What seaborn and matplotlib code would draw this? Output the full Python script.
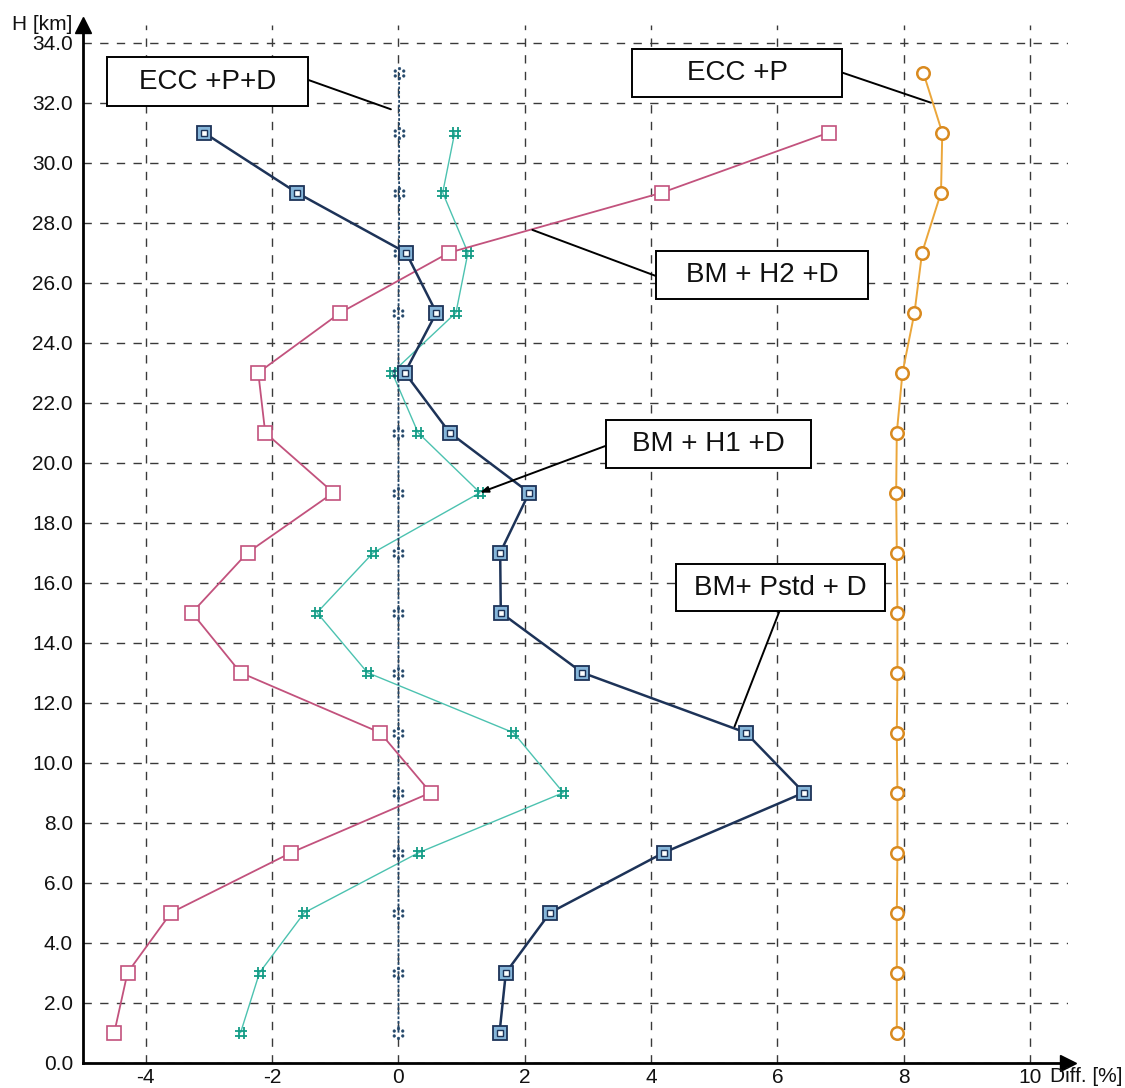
import numpy as np
import pandas as pd
import matplotlib
matplotlib.use("Agg")
import matplotlib.pyplot as plt
from matplotlib.path import Path
from matplotlib.patches import Rectangle
import seaborn as sns

# ---------------- data ----------------
heights = [1, 3, 5, 7, 9, 11, 13, 15, 17, 19, 21, 23, 25, 27, 29, 31]
heights_ecc = [1, 3, 5, 7, 9, 11, 13, 15, 17, 19, 21, 23, 25, 27, 29, 31, 33]

bm_pstd_d = [1.60, 1.70, 2.40, 4.20, 6.42, 5.50, 2.91, 1.62, 1.61, 2.07,
             0.81, 0.10, 0.60, 0.12, -1.61, -3.08]
bm_h2_d = [-4.50, -4.29, -3.60, -1.70, 0.51, -0.29, -2.50, -3.27, -2.39, -1.03,
           -2.11, -2.22, -0.92, 0.80, 4.17, 6.81]
bm_h1_d = [-2.50, -2.20, -1.49, 0.32, 2.61, 1.82, -0.49, -1.29, -0.40, 1.29,
           0.31, -0.10, 0.91, 1.10, 0.70, 0.89]
ecc_p_d = [0.00, 0.00, 0.00, 0.00, 0.00, 0.00, 0.00, 0.00, 0.00, 0.00,
           0.00, 0.00, 0.00, 0.01, 0.01, 0.01, 0.01]
ecc_p = [7.89, 7.89, 7.89, 7.90, 7.90, 7.89, 7.90, 7.90, 7.89, 7.88,
         7.89, 7.98, 8.17, 8.29, 8.59, 8.61, 8.31]

x_ticks = [-4, -2, 0, 2, 4, 6, 8, 10]
y_ticks = [0, 2, 4, 6, 8, 10, 12, 14, 16, 18, 20, 22, 24, 26, 28, 30, 32, 34]
y_tick_labels = ["0.0", "2.0", "4.0", "6.0", "8.0", "10.0", "12.0", "14.0", "16.0",
                 "18.0", "20.0", "22.0", "24.0", "26.0", "28.0", "30.0", "32.0", "34.0"]

labels = ["ECC +P+D", "ECC +P", "BM + H2 +D", "BM + H1 +D", "BM+ Pstd + D"]

# ---------------- style ----------------
sns.set_theme(style="white")
plt.rcParams["font.family"] = ["Liberation Sans", "DejaVu Sans"]

navy = "#1d3358"
navy_face = "#86b6da"
pink = "#c2527d"
teal_line = "#4cc2b0"
teal_mark = "#149c86"
orange_line = "#eba63a"
orange_mark = "#d98a1f"
ecc_dark = "#24486b"

fig = plt.figure(figsize=(11.25, 10.88), dpi=100)
ax = fig.add_axes([0.0735, 0.0233, 0.8758, 0.954])

# custom markers
ring = []
for ang in np.deg2rad([90, 150, 210, 270, 330, 30]):
    c = Path.unit_circle()
    v = c.vertices * 0.28 + np.array([np.cos(ang), np.sin(ang)])
    ring.append(Path(v, c.codes))
dot_ring = Path.make_compound_path(*ring)

hash_path = Path(
    [(-1, -0.4), (1, -0.4), (-1, 0.4), (1, 0.4),
     (-0.4, -1), (-0.4, 1), (0.4, -1), (0.4, 1)],
    [Path.MOVETO, Path.LINETO] * 4,
)

# ---------------- series ----------------
# BM + H2 + D (pink, open squares)
sns.lineplot(x=bm_h2_d, y=heights, orient="y", sort=False, estimator=None, ax=ax,
             color=pink, linewidth=1.3, marker="s", markersize=10,
             markerfacecolor="white", markeredgecolor=pink, markeredgewidth=1.2,
             zorder=4)

# BM + H1 + D (teal, hash markers)
sns.lineplot(x=bm_h1_d, y=heights, orient="y", sort=False, estimator=None, ax=ax,
             color=teal_line, linewidth=1.0, zorder=3)
ax.plot(bm_h1_d, heights, linestyle="none", marker=hash_path, markersize=9,
        markerfacecolor="none", markeredgecolor=teal_mark, markeredgewidth=1.3,
        zorder=3.5)

# ECC +P+D (dark dotted, ring-of-dots markers)
sns.lineplot(x=ecc_p_d, y=heights_ecc, orient="y", sort=False, estimator=None, ax=ax,
             color=ecc_dark, linewidth=1.3, linestyle=(0, (1.5, 1)), zorder=3)
ax.plot(ecc_p_d, heights_ecc, linestyle="none", marker=dot_ring, markersize=9,
        markerfacecolor=ecc_dark, markeredgecolor=ecc_dark, markeredgewidth=0.3,
        zorder=3.6)

# BM + Pstd + D (navy, double squares)
sns.lineplot(x=bm_pstd_d, y=heights, orient="y", sort=False, estimator=None, ax=ax,
             color=navy, linewidth=1.8, marker="s", markersize=10,
             markerfacecolor=navy_face, markeredgecolor=navy, markeredgewidth=1.3,
             zorder=5)
ax.plot(bm_pstd_d, heights, linestyle="none", marker="s", markersize=4,
        markerfacecolor="white", markeredgecolor=navy, markeredgewidth=1.0, zorder=5.5)

# ECC +P (orange)
sns.lineplot(x=ecc_p, y=heights_ecc, orient="y", sort=False, estimator=None, ax=ax,
             color=orange_line, linewidth=1.4, marker="o", markersize=9,
             markerfacecolor="white", markeredgecolor=orange_mark, markeredgewidth=1.8,
             zorder=4)

# ---------------- axes ----------------
ax.set_xlim(-5, 10.6)
ax.set_ylim(0, 34.6)
ax.set_xticks(x_ticks)
ax.set_xticklabels([str(t) for t in x_ticks])
ax.set_yticks(y_ticks)
ax.set_yticklabels(y_tick_labels)
ax.tick_params(axis="both", length=0, labelsize=15, colors="#111111")
ax.tick_params(axis="x", pad=4)
ax.tick_params(axis="y", pad=7)
ax.set_xlabel("")
ax.set_ylabel("")

ax.grid(True, color="#3a3a3a", linestyle=(0, (6, 6)), linewidth=1.0)
ax.set_axisbelow(True)
for s in ["top", "right"]:
    ax.spines[s].set_visible(False)
for s in ["left", "bottom"]:
    ax.spines[s].set_linewidth(2.0)
    ax.spines[s].set_color("black")

# axis arrows
ax.plot(1, 0, ">", color="black", markersize=11, transform=ax.transAxes, clip_on=False)
ax.plot(0, 1, "^", color="black", markersize=11, transform=ax.transAxes, clip_on=False)

fig.text(11.7 / 1125, 1 - 24 / 1088, "H [km]", fontsize=15, va="center", ha="left",
         color="#111111")
fig.text(1050 / 1125, 1 - 1077 / 1088, "Diff. [%]", fontsize=15, va="center", ha="left",
         color="#111111")

# ---------------- label boxes ----------------
boxes = [
    # label, (x0, x1, y0, y1), leader start, leader end, arrow style
    (labels[0], (-4.61, -1.43, 31.89, 33.52), (-1.43, 32.76), (-0.12, 31.78), "-"),
    (labels[1], (3.69, 7.03, 32.20, 33.78), (7.03, 33.00), (8.43, 32.00), "-"),
    (labels[2], (4.08, 7.44, 25.44, 27.05), (4.08, 26.22), (2.12, 27.76), "-"),
    (labels[3], (3.28, 6.53, 19.81, 21.41), (3.28, 20.56), (1.29, 19.00),
     "-|>,head_length=0.4,head_width=0.15"),
    (labels[4], (4.39, 7.70, 15.04, 16.62), (6.03, 15.04), (5.32, 11.20), "-"),
]
for text, (x0, x1, y0, y1), start, end, style in boxes:
    ax.add_patch(Rectangle((x0, y0), x1 - x0, y1 - y0, facecolor="white",
                           edgecolor="black", linewidth=1.4, zorder=8))
    ax.text((x0 + x1) / 2, (y0 + y1) / 2, text, ha="center", va="center",
            fontsize=20, color="#111111", zorder=9)
    ax.annotate("", xy=end, xytext=start,
                arrowprops=dict(arrowstyle=style, color="black", lw=1.4,
                                shrinkA=0, shrinkB=0),
                zorder=7)

fig.savefig("out.png", dpi=100)
